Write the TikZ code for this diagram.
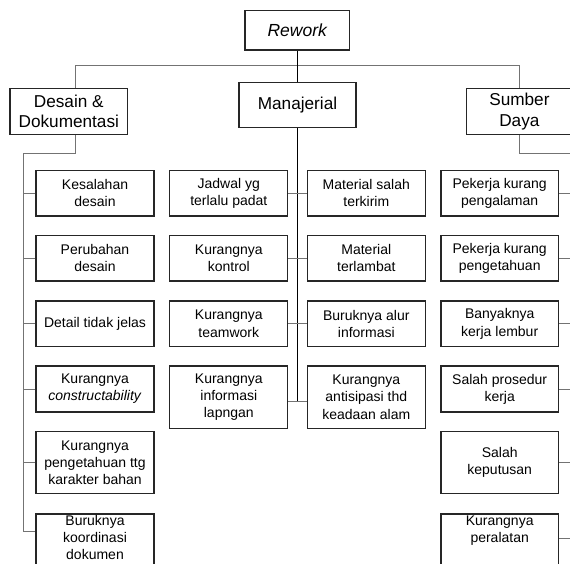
\documentclass[tikz,border=0pt]{standalone}
\usepackage{fontspec}
\setmainfont{Liberation Sans}
\begin{document}
\begin{tikzpicture}[x=1pt,y=-1pt,
  cbox/.style={draw=black!85, line width=1.2pt, fill=white, align=center, inner sep=0pt,
    font=\fontsize{14}{17.2}\selectfont, minimum width=118pt, minimum height=45.5pt},
  tbox/.style={cbox, font=\fontsize{17.2}{20.5}\selectfont, minimum width=117.7pt, minimum height=46.3pt},
  txt/.style={align=center, inner sep=0pt, font=\fontsize{14}{17.2}\selectfont},
  gline/.style={draw=black!55, line width=1pt},
  bline/.style={draw=black, line width=1pt}]
\useasboundingbox (0,0) rectangle (570,564);
\clip (0,0) rectangle (570,564);
\fill[white] (0,0) rectangle (570,564);

% top levels
\node[tbox, minimum width=104.3pt, minimum height=39.3pt, font=\fontsize{17.5}{20}\selectfont\itshape] (rw) at (297.2,30.3) {Rework};
\node[tbox, minimum width=117pt, minimum height=45pt] (man) at (297.5,105.2) {Manajerial};
\node[tbox] (des) at (68.8,111.5) {Desain \&\\Dokumentasi};
\node[tbox, minimum width=105.4pt] (sd) at (519.4,111.5) {Sumber\\Daya};

% left column
\node[cbox] (l1) at (95,193.3) {Kesalahan\\desain};
\node[cbox] (l2) at (95,258.3) {Perubahan\\desain};
\node[cbox] (l3) at (95,323.8) {Detail tidak jelas};
\node[cbox, minimum height=46pt] (l4) at (95,389) {Kurangnya\\\textit{constructability}};
\node[cbox, minimum height=61.6pt] (l5) at (95,462.5) {Kurangnya\\pengetahuan ttg\\karakter bahan};
\node[cbox, minimum height=62pt, anchor=north] (l6) at (95,513.3) {};
\node[txt] (l6t) at (95,537.5) {Buruknya\\koordinasi\\dokumen};

% middle-left column
\node[cbox] (m1) at (228.8,193.3) {Jadwal yg\\terlalu padat};
\node[cbox] (m2) at (228.8,258.3) {Kurangnya\\kontrol};
\node[cbox] (m3) at (228.8,323.8) {Kurangnya\\teamwork};
\node[cbox, minimum height=62.3pt] (m4) at (228.8,397.2) {Kurangnya\\informasi\\lapngan};

% middle-right column
\node[cbox] (n1) at (366.3,193.3) {Material salah\\terkirim};
\node[cbox] (n2) at (366.3,258.3) {Material\\terlambat};
\node[cbox] (n3) at (366.3,323.8) {Buruknya alur\\informasi};
\node[cbox, minimum height=62.3pt] (n4) at (366.3,397.2) {Kurangnya\\antisipasi thd\\keadaan alam};

% right column
\node[cbox, minimum width=117.3pt] (r1) at (499.7,193.3) {Pekerja kurang\\pengalaman};
\node[cbox, minimum width=117.3pt] (r2) at (499.7,258.3) {Pekerja kurang\\pengetahuan};
\node[cbox, minimum width=117.3pt] (r3) at (499.7,323.8) {Banyaknya\\kerja lembur};
\node[cbox, minimum width=117.3pt, minimum height=46pt] (r4) at (499.7,389) {Salah prosedur\\kerja};
\node[cbox, minimum width=117.3pt, minimum height=61.6pt] (r5) at (499.7,462.5) {Salah\\keputusan};
\node[cbox, minimum width=117.3pt, minimum height=62pt, anchor=north] (r6) at (499.7,513.3) {};
\node[txt] (r6t) at (499.7,531) {Kurangnya\\peralatan};

% connectors
\coordinate (bar) at (297.3,65.7);
\draw[gline] ([xshift=6.9pt]des.north) |- (bar) -| (sd.north);
\draw[bline] (rw.south) -- (rw.south |- man.north);

\coordinate (lsp) at (23.3,154);
\coordinate (lend) at (23.3,531.7);
\draw[gline] ([xshift=6.9pt]des.south) |- (lsp) -- (lend) -- (lend -| l6.west);
\foreach \n in {l1,l2,l3,l4,l5}{\draw[gline] (\n.west) -- (\n.west -| lsp);}

\coordinate (mend) at (297.5,401.7);
\draw[bline] (man.south) -- (mend);
\draw[gline] (m1.east) -- (n1.west);
\draw[gline] (m2.east) -- (n2.west);
\draw[gline] (m3.east) -- (n3.west);
\draw[gline] (mend -| m4.east) -- (mend -| n4.west);

\coordinate (rsp) at (572,154);
\coordinate (rend) at (572,538);
\draw[gline] (sd.south) |- (rsp) -- (rend);
\foreach \n in {r1,r2,r3,r4,r5}{\draw[gline] (\n.east) -- (\n.east -| rsp);}
\draw[gline] (rend -| r6.east) -- (rend);
\end{tikzpicture}
\end{document}
